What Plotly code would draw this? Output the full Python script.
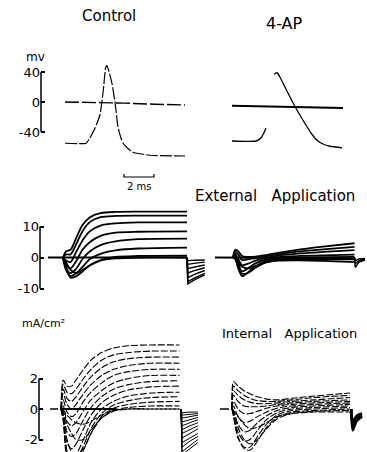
import plotly.graph_objects as go

W, H = 367, 452

# ---------------- data ----------------
# Row 1: membrane potential (mV) vs time (ms)
AP_CTRL_FLAT_T = [0, 2, 4, 6, 8]
AP_CTRL_FLAT_V = [0, -0.5, -1.5, -3, -4]
AP_CTRL_T = [0, 1.4, 1.6, 2.0, 2.33, 2.55, 2.7, 2.77, 2.87, 3.13, 3.33, 3.53, 3.73, 3.87, 4.2, 4.53, 5.67, 8.0]
AP_CTRL_V = [-55, -55, -50, -35, -17, 15, 45, 49, 45, 25, 0, -33, -48, -55, -62, -67, -71, -72]

AP_4AP_FLAT_T = [0, 7.4]
AP_4AP_FLAT_V = [-5, -8]
AP_4AP_FOOT_T = [0, 1.6, 1.93, 2.27]
AP_4AP_FOOT_V = [-52, -52, -48, -35]
AP_4AP_SPIKE_T = [2.8, 3.0, 3.2, 3.73, 4.2, 4.6, 5.0, 5.33, 5.67, 6.07, 6.53, 7.33]
AP_4AP_SPIKE_V = [37, 39, 33, 12, -6, -20, -33, -43, -51, -56, -59, -61]

SCALE_BAR_T = [3.93, 3.93, 5.93, 5.93]   # 2 ms
SCALE_BAR_V = [-96, -100, -100, -96]

# Row 2: external application, current (mA/cm2)
EXT_CTRL_BASE_T = [-1.0, 8.27]
EXT_CTRL_BASE_I = [0, 0]
EXT_CTRL_T = [0, 0.2, 0.5, 0.9, 1.3, 1.8, 2.5, 3.5, 5.0, 8.27]
EXT_CTRL_I = [
    [0, 2.0, 2.5, 6.5, 10.5, 13.0, 14.3, 14.7, 14.8, 14.8],
    [0, 1.0, 1.0, 4.5, 8.5, 11.5, 13.0, 13.4, 13.5, 13.5],
    [0, -1.0, -1.5, 2.0, 5.5, 8.5, 10.3, 11.0, 11.3, 11.3],
    [0, -2.5, -3.5, -1.0, 2.5, 5.0, 7.0, 8.0, 8.3, 8.4],
    [0, -3.5, -5.0, -3.5, -0.5, 2.0, 4.0, 5.2, 5.9, 6.1],
    [0, -4.0, -6.0, -5.0, -3.0, -0.5, 1.2, 2.3, 2.9, 3.2],
    [0, -3.0, -6.5, -6.0, -4.5, -2.5, -0.8, 0.2, 0.5, 0.6],
    [0, -1.5, -4.0, -5.0, -4.0, -2.5, -1.0, -0.3, 0.0, 0.0],
]
EXT_CTRL_TAIL_T = [8.27, 8.32, 8.85, 9.45]
EXT_CTRL_TAIL_I = [
    [0, -8.5, -7.0, -5.6],
    [0, -7.8, -6.4, -5.1],
    [0, -6.5, -5.3, -4.2],
    [0, -5.0, -4.1, -3.3],
    [0, -3.6, -3.0, -2.4],
    [0, -2.2, -1.8, -1.5],
    [0, -1.0, -0.9, -0.8],
]

EXT_4AP_BASE_T = [-1.2, 8.1]
EXT_4AP_BASE_I = [0, -0.3]
EXT_4AP_T = [0, 0.15, 0.35, 0.6, 1.0, 1.5, 2.2, 3.0, 4.5, 6.0, 8.1]
EXT_4AP_I = [
    [0, 2.5, 2.0, 0.5, 0.2, 0.3, 0.8, 1.5, 2.6, 3.5, 4.6],
    [0, 2.0, 1.0, -0.8, -0.6, -0.2, 0.4, 1.1, 2.0, 2.6, 3.4],
    [0, 1.2, -0.5, -2.5, -2.0, -1.0, -0.1, 0.6, 1.3, 1.8, 2.4],
    [0, 0.5, -2.0, -4.5, -3.5, -1.9, -0.6, 0.1, 0.5, 0.7, 0.9],
    [0, -0.3, -3.5, -6.0, -4.8, -2.8, -1.1, -0.4, 0.0, 0.1, 0.2],
    [0, -0.5, -3.0, -5.2, -5.0, -3.3, -1.6, -0.8, -0.6, -0.6, -0.6],
    [0, -0.3, -1.5, -3.0, -3.5, -2.8, -1.6, -1.0, -0.9, -1.1, -1.5],
]
EXT_4AP_TAIL_T = [8.1, 8.15, 8.4, 8.8]
EXT_4AP_TAIL_I = [
    [0, -3.2, -1.5, -0.8],
    [0, -2.0, -1.0, -0.5],
    [0, -1.0, -0.5, -0.3],
]

# Row 3: internal application, current (mA/cm2)
INT_CTRL_BASE_T = [-0.73, -0.2]
INT_CTRL_BASE_I = [0, 0]
INT_CTRL_ZERO_T = [0, 3.7]
INT_CTRL_ZERO_I = [0, 0]
INT_CTRL_T = [0, 0.15, 0.4, 0.7, 1.0, 1.5, 2.0, 2.7, 3.5, 4.5, 6.0, 7.9]
INT_CTRL_I = [
    [0, 1.9, 1.5, 1.5, 1.9, 2.6, 3.2, 3.7, 4.0, 4.15, 4.2, 4.2],
    [0, 1.6, 1.1, 1.0, 1.3, 2.0, 2.6, 3.2, 3.55, 3.7, 3.8, 3.8],
    [0, 1.3, 0.7, 0.5, 0.8, 1.5, 2.1, 2.7, 3.1, 3.3, 3.4, 3.4],
    [0, 1.0, 0.3, 0.0, 0.3, 1.0, 1.6, 2.2, 2.6, 2.85, 3.0, 3.0],
    [0, 0.6, -0.2, -0.5, -0.3, 0.5, 1.1, 1.7, 2.2, 2.45, 2.6, 2.6],
    [0, 0.2, -0.8, -1.1, -0.9, -0.1, 0.6, 1.2, 1.7, 2.0, 2.2, 2.2],
    [0, -0.2, -1.5, -1.8, -1.6, -0.7, 0.1, 0.8, 1.3, 1.6, 1.8, 1.85],
    [0, -0.5, -2.2, -2.6, -2.3, -1.3, -0.4, 0.4, 0.9, 1.25, 1.45, 1.5],
    [0, -0.7, -2.8, -3.3, -3.0, -2.0, -0.9, 0.0, 0.5, 0.85, 1.05, 1.1],
    [0, -0.8, -3.2, -3.6, -3.4, -2.4, -1.3, -0.3, 0.25, 0.55, 0.75, 0.8],
    [0, -0.6, -2.8, -3.5, -3.5, -2.7, -1.6, -0.5, 0.05, 0.3, 0.45, 0.5],
    [0, -0.4, -2.0, -2.8, -3.0, -2.6, -1.6, -0.6, -0.1, 0.1, 0.2, 0.2],
    [0, -0.2, -1.0, -1.6, -2.0, -2.0, -1.4, -0.6, -0.15, 0.0, 0.0, 0.0],
    [0, -0.1, -0.4, -0.7, -0.9, -1.0, -0.8, -0.4, -0.1, 0.0, 0.0, 0.0],
]
INT_CTRL_TAIL_T = [8.0, 8.07, 8.6, 9.13]
INT_CTRL_TAIL_I = [
    [0, -3.0, -2.6, -2.2],
    [0, -2.8, -2.4, -2.0],
    [0, -2.5, -2.1, -1.8],
    [0, -2.2, -1.9, -1.6],
    [0, -1.9, -1.6, -1.3],
    [0, -1.6, -1.35, -1.1],
    [0, -1.35, -1.1, -0.9],
    [0, -1.1, -0.9, -0.7],
    [0, -0.85, -0.7, -0.55],
    [0, -0.6, -0.5, -0.4],
    [0, -0.4, -0.35, -0.3],
    [0, -0.25, -0.2, -0.2],
]

INT_4AP_BASE_T = [-0.8, -0.2]
INT_4AP_BASE_I = [0, 0]
INT_4AP_T = [0, 0.1, 0.4, 0.8, 1.2, 1.7, 2.3, 3.0, 4.0, 5.5, 7.87]
INT_4AP_I = [
    [0, 1.8, 1.5, 1.2, 1.0, 0.8, 0.65, 0.6, 0.7, 0.85, 1.05],
    [0, 1.5, 1.2, 0.9, 0.7, 0.55, 0.5, 0.5, 0.6, 0.75, 0.9],
    [0, 1.2, 0.9, 0.6, 0.45, 0.35, 0.35, 0.4, 0.5, 0.6, 0.75],
    [0, 0.9, 0.5, 0.2, 0.15, 0.15, 0.2, 0.3, 0.4, 0.5, 0.6],
    [0, 0.5, 0.0, -0.3, -0.3, -0.15, 0.05, 0.2, 0.3, 0.4, 0.5],
    [0, 0.2, -0.5, -0.9, -0.8, -0.5, -0.2, 0.05, 0.2, 0.3, 0.4],
    [0, -0.1, -1.0, -1.5, -1.4, -0.9, -0.45, -0.1, 0.1, 0.2, 0.3],
    [0, -0.3, -1.5, -2.1, -2.0, -1.4, -0.7, -0.25, 0.0, 0.1, 0.2],
    [0, -0.5, -1.9, -2.5, -2.5, -1.8, -1.0, -0.4, -0.1, 0.0, 0.1],
    [0, -0.4, -1.8, -2.6, -2.7, -2.1, -1.2, -0.55, -0.2, -0.1, 0.0],
    [0, -0.2, -1.2, -2.0, -2.3, -2.0, -1.3, -0.65, -0.3, -0.15, -0.1],
    [0, -0.1, -0.5, -1.0, -1.3, -1.2, -0.9, -0.5, -0.3, -0.2, -0.2],
]
INT_4AP_TAIL_T = [7.95, 8.05, 8.3, 8.67]
INT_4AP_TAIL_I = [
    [0, -1.4, -0.8, -0.5],
    [0, -1.1, -0.6, -0.4],
    [0, -0.8, -0.45, -0.3],
]

Y_TICKS = {1: [-40, 0, 40], 2: [-10, 0, 10], 3: [-2, 0, 2]}
Y_TICKTEXT = {1: ["-40", "0", "40"], 2: ["-10", "0", "10"], 3: ["-2", "0", "2"]}

# ---------------- layout geometry (pixels) ----------------
PX_PER_MS = 15.0
ROWS = {1: dict(p=(48, 190), zero=102, k=0.75),
        2: dict(p=(198, 300), zero=257.5, k=3.1),
        3: dict(p=(336, 452), zero=409, k=15.25)}
XAX = {1: (1, 41, 200, 65), 2: (1, 205, 367, 232),
       3: (2, 40, 210, 63), 4: (2, 210, 367, 233),
       5: (3, 39, 205, 61), 6: (3, 205, 367, 232)}

FONT = "DejaVu Sans"

fig = go.Figure()


def axname(i, kind):
    return kind if i == 1 else f"{kind}{i}"


def add(xi, t, v, width=1.5, dash="solid", shape="spline", smoothing=0.8):
    row = XAX[xi][0]
    line = dict(color="black", width=width, dash=dash, shape=shape)
    if shape == "spline":
        line["smoothing"] = smoothing
    fig.add_trace(go.Scatter(x=t, y=v, mode="lines", line=line,
                             xaxis=axname(xi, "x"), yaxis=axname(row, "y"),
                             hoverinfo="skip"))


# Row 1
add(1, AP_CTRL_FLAT_T, AP_CTRL_FLAT_V, 1.4, "14px,3px", "linear")
add(1, AP_CTRL_T, AP_CTRL_V, 1.2, "12px,2px", "spline", 0.5)
add(1, SCALE_BAR_T, SCALE_BAR_V, 1.2, "solid", "linear")
add(2, AP_4AP_FLAT_T, AP_4AP_FLAT_V, 2.2, "solid", "linear")
add(2, AP_4AP_FOOT_T, AP_4AP_FOOT_V, 1.4, "solid", "spline", 0.6)
add(2, AP_4AP_SPIKE_T, AP_4AP_SPIKE_V, 1.3, "solid", "spline", 0.6)

# Row 2
add(3, EXT_CTRL_BASE_T, EXT_CTRL_BASE_I, 2.2, "solid", "linear")
for tr in EXT_CTRL_I:
    add(3, EXT_CTRL_T, tr, 1.8)
for tr in EXT_CTRL_TAIL_I:
    add(3, EXT_CTRL_TAIL_T, tr, 1.4, "solid", "linear")
add(4, EXT_4AP_BASE_T, EXT_4AP_BASE_I, 2.2, "solid", "linear")
for tr in EXT_4AP_I:
    add(4, EXT_4AP_T, tr, 1.8)
for tr in EXT_4AP_TAIL_I:
    add(4, EXT_4AP_TAIL_T, tr, 1.4, "solid", "linear")

# Row 3
add(5, INT_CTRL_BASE_T, INT_CTRL_BASE_I, 1.5, "solid", "linear")
add(5, INT_CTRL_ZERO_T, INT_CTRL_ZERO_I, 2.2, "solid", "linear")
for tr in INT_CTRL_I:
    add(5, INT_CTRL_T, tr, 1.1, "7px,2px")
for tr in INT_CTRL_TAIL_I:
    add(5, INT_CTRL_TAIL_T, tr, 1.0, "solid", "linear")
add(6, INT_4AP_BASE_T, INT_4AP_BASE_I, 1.5, "solid", "linear")
for tr in INT_4AP_I:
    add(6, INT_4AP_T, tr, 1.1, "7px,2px")
for tr in INT_4AP_TAIL_I:
    add(6, INT_4AP_TAIL_T, tr, 2.5, "solid", "spline", 0.8)

layout = dict(width=W, height=H, margin=dict(l=0, r=0, t=0, b=0),
              paper_bgcolor="white", plot_bgcolor="white", showlegend=False,
              font=dict(family=FONT, color="black"))

for xi, (row, p0, p1, t0) in XAX.items():
    layout[axname(xi, "xaxis")] = dict(
        domain=[p0 / W, p1 / W],
        range=[(p0 - t0) / PX_PER_MS, (p1 - t0) / PX_PER_MS],
        visible=False, anchor=axname(row, "y"), fixedrange=True)

left_x = {1: 1, 2: 3, 3: 5}
for row, r in ROWS.items():
    p0, p1 = r["p"]
    layout[axname(row, "yaxis")] = dict(
        domain=[1 - p1 / H, 1 - p0 / H],
        range=[(r["zero"] - p1) / r["k"], (r["zero"] - p0) / r["k"]],
        anchor=axname(left_x[row], "x"),
        showgrid=False, zeroline=False, showline=False,
        ticks="inside", ticklen=4, tickwidth=1.5, tickcolor="black",
        tickvals=Y_TICKS[row], ticktext=Y_TICKTEXT[row],
        tickfont=dict(size=13, color="black", family=FONT),
        fixedrange=True)

fig.update_layout(**layout)

# axis brackets
for row in ROWS:
    xi = left_x[row]
    fig.add_shape(type="line", xref=f"{axname(xi, 'x')} domain", x0=0, x1=0,
                  yref=axname(row, "y"), y0=Y_TICKS[row][0], y1=Y_TICKS[row][-1],
                  line=dict(color="black", width=1.5))


def ann(text, x, y, size, xanchor="center", family=FONT):
    fig.add_annotation(text=text, x=x / W, y=1 - y / H, xref="paper", yref="paper",
                       showarrow=False, xanchor=xanchor, yanchor="middle",
                       font=dict(size=size, color="black", family=family))


ann("Control", 109, 16, 15)
ann("4-AP", 284, 23, 16)
ann("mv", 35, 57, 12)
ann("2 ms", 139, 186, 10)
ann("External&nbsp;&nbsp;&nbsp;Application", 193, 196, 15, "left")
ann("mA/cm²", 20, 323, 11, "left")
ann("Internal&nbsp;&nbsp;&nbsp;Application", 220, 333, 13, "left")

fig.write_html("out.html")
